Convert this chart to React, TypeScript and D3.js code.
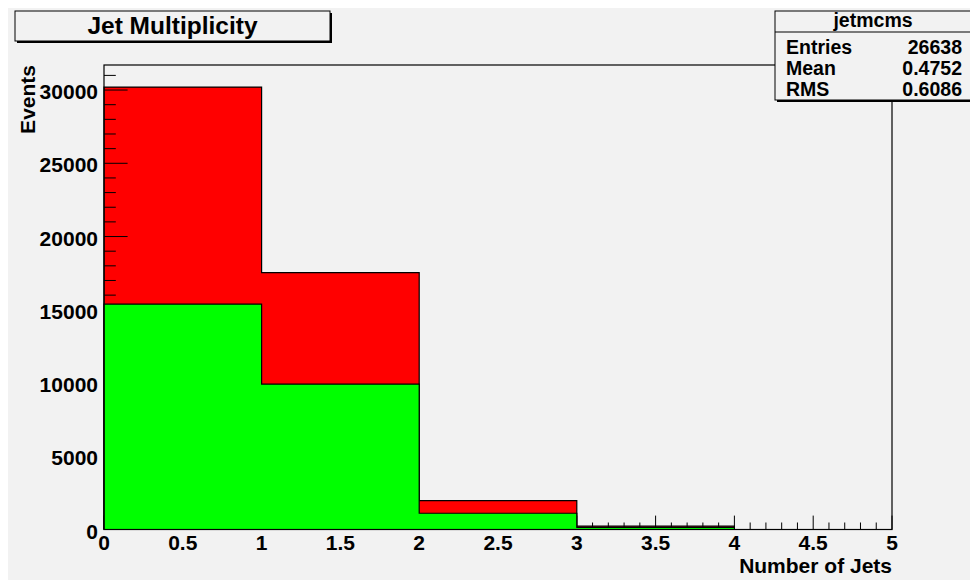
import React from "react";
import * as d3 from "d3";

// ---- data ----
const binEdges = [0, 1, 2, 3, 4, 5];
const greenCounts = [15390, 9930, 1110, 150, 0];
const redCounts = [14810, 7600, 860, 80, 0];
const xTickLabels = ["0", "0.5", "1", "1.5", "2", "2.5", "3", "3.5", "4", "4.5", "5"];
const yTickValues = [0, 5000, 10000, 15000, 20000, 25000, 30000];
const statLabels = ["Entries", "Mean", "RMS"];
const statValues = ["26638", "0.4752", "0.6086"];
const histName = "jetmcms";
const titleText = "Jet Multiplicity";
const xTitle = "Number of Jets";
const yTitle = "Events";

const W = 978;
const H = 580;
const BG = "#f2f2f2";
const FONT = "'Liberation Sans', Arial, Helvetica, sans-serif";

const frame = { left: 104, right: 892, top: 65, bottom: 529.5 };

export default function App() {
  const totals = greenCounts.map((g, i) => g + redCounts[i]);
  const yMax = d3.max(totals)! * 1.05;
  const x = d3.scaleLinear().domain([0, 5]).range([frame.left, frame.right]);
  const y = d3.scaleLinear().domain([0, yMax]).range([frame.bottom, frame.top]);

  const pts = (vals: number[]) => {
    const p: [number, number][] = vals.map((v, i) => [binEdges[i], v]);
    p.push([binEdges[binEdges.length - 1], vals[vals.length - 1]]);
    return p;
  };
  const area = d3
    .area<[number, number]>()
    .x((d) => x(d[0]))
    .y0(y(0))
    .y1((d) => y(d[1]))
    .curve(d3.curveStepAfter);
  const line = d3
    .line<[number, number]>()
    .x((d) => x(d[0]))
    .y((d) => y(d[1]))
    .curve(d3.curveStepAfter);
  const outlinePts = (vals: number[]) => {
    const p = pts(vals);
    return [[0, 0] as [number, number], ...p, [5, 0] as [number, number]];
  };

  const yMinor = d3.range(0, yMax, 1000);
  const xMinor = d3.range(0, 5.0001, 0.1);
  const xMajor = d3.range(0, 5.0001, 0.5);
  const yMajLen = 23.6;
  const yMinLen = 11.8;
  const xMajLen = 13.9;
  const xMinLen = 7;

  const statBaselines = [53.5, 74.5, 95.5];

  return (
    <svg width={W - 8} height={H - 8} style={{ display: "block" }}>
      <g transform="translate(-8,-8)">
        <rect x={8} y={8} width={W - 8} height={H - 8} fill={BG} />
        {/* frame fill */}
        <rect
          x={frame.left}
          y={frame.top}
          width={frame.right - frame.left}
          height={frame.bottom - frame.top}
          fill={BG}
        />
        {/* red (stack total) */}
        <path d={area(pts(totals))!} fill="#ff0000" />
        <path d={line(outlinePts(totals))!} fill="none" stroke="#000" strokeWidth={1.2} />
        {/* ticks */}
        <g stroke="#000" strokeWidth={1}>
          {yMinor.map((v) => (
            <line
              key={"ym" + v}
              x1={frame.left}
              x2={frame.left + (v % 5000 === 0 ? yMajLen : yMinLen)}
              y1={y(v)}
              y2={y(v)}
            />
          ))}
          {xMinor.map((v, i) => (
            <line
              key={"xm" + i}
              x1={x(v)}
              x2={x(v)}
              y1={frame.bottom}
              y2={frame.bottom - (i % 5 === 0 ? xMajLen : xMinLen)}
            />
          ))}
        </g>
        {/* green */}
        <path d={area(pts(greenCounts))!} fill="#00ff00" />
        <path d={line(outlinePts(greenCounts))!} fill="none" stroke="#000" strokeWidth={1.2} />
        {/* frame border */}
        <rect
          x={frame.left}
          y={frame.top}
          width={frame.right - frame.left}
          height={frame.bottom - frame.top}
          fill="none"
          stroke="#000"
          strokeWidth={1.2}
        />
        {/* axis labels */}
        <g fontFamily={FONT} fontWeight="bold" fontSize={21} fill="#000">
          {yTickValues.map((v) => (
            <text key={"yl" + v} x={98} y={y(v) + 9} textAnchor="end">
              {String(v)}
            </text>
          ))}
          {xMajor.map((v, i) => (
            <text key={"xl" + i} x={x(v)} y={550} textAnchor="middle">
              {xTickLabels[i]}
            </text>
          ))}
          <text x={frame.right} y={573} textAnchor="end">
            {xTitle}
          </text>
          <text transform={`translate(35,${frame.top}) rotate(-90)`} textAnchor="end">
            {yTitle}
          </text>
        </g>
        {/* title box */}
        <rect x={17} y={13} width={315} height={30} fill="#000" />
        <rect x={15} y={11} width={315} height={30} fill={BG} stroke="#000" strokeWidth={1} />
        <text
          x={172.5}
          y={34}
          textAnchor="middle"
          fontFamily={FONT}
          fontWeight="bold"
          fontSize={24.5}
          fill="#000"
        >
          {titleText}
        </text>
        {/* stats box */}
        <rect x={777} y={13} width={196} height={89} fill="#000" />
        <rect x={775} y={11} width={196} height={89} fill={BG} stroke="#000" strokeWidth={1} />
        <line x1={775} x2={971} y1={32} y2={32} stroke="#000" strokeWidth={1} />
        <g fontFamily={FONT} fontWeight="bold" fill="#000">
          <text x={873} y={27} textAnchor="middle" fontSize={19.5}>
            {histName}
          </text>
          {statLabels.map((s, i) => (
            <text key={s} x={786} y={statBaselines[i]} fontSize={19.5}>
              {s}
            </text>
          ))}
          {statValues.map((s, i) => (
            <text key={s} x={962} y={statBaselines[i]} textAnchor="end" fontSize={19.5}>
              {s}
            </text>
          ))}
        </g>
      </g>
    </svg>
  );
}
